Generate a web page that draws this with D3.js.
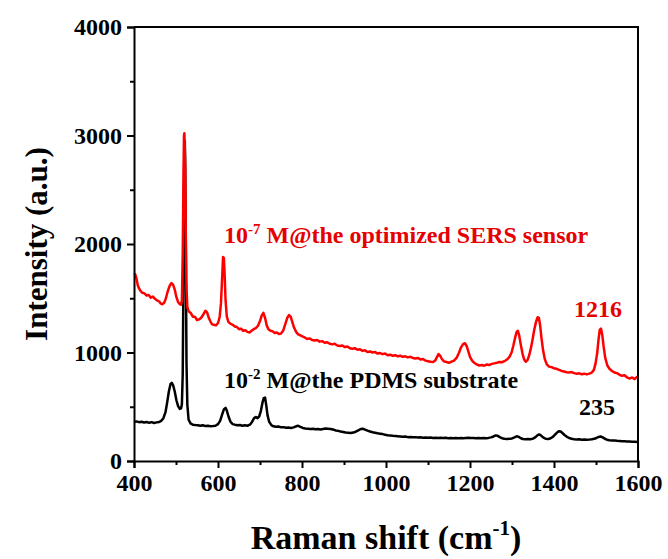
<!DOCTYPE html>
<html>
<head>
<meta charset="utf-8">
<script src="https://cdn.jsdelivr.net/npm/d3@7"></script>
<style>
  html, body { margin: 0; padding: 0; background: #fff; }
  svg { display: block; }
  text { font-family: "Liberation Serif", "Times New Roman", serif; font-weight: bold; }
</style>
</head>
<body>
<svg id="chart" width="668" height="559"></svg>
<script>
// ---- data ----
const xTicks = [400, 600, 800, 1000, 1200, 1400, 1600];
const yTicks = [0, 1000, 2000, 3000, 4000];
const xMinor = [500, 700, 900, 1100, 1300, 1500];
const yMinor = [500, 1500, 2500, 3500];

// 10^-7 M @ optimized SERS sensor (red)
const redShift = [400,403,406,409,412,416,420,425,430,435,440,445,450,455,460,464,468,472,476,480,485,489,493,497,501,505,509,512,514,516,518,519,520,522,523,525,527,530,535,540,545,550,555,560,565,570,574,578,582,586,590,595,600,604,607,610,612,614,616,618,621,625,630,635,640,645,650,655,660,665,670,675,680,685,690,695,700,704,708,712,716,720,725,730,735,740,745,750,755,760,765,769,773,777,781,786,790,795,800,806,812,818,824,830,836,842,848,854,860,866,872,878,884,890,896,902,908,914,920,926,932,938,944,950,956,962,968,974,980,986,992,998,1004,1010,1016,1022,1028,1034,1040,1046,1052,1058,1064,1070,1076,1082,1088,1094,1100,1106,1112,1117,1121,1125,1129,1133,1138,1144,1150,1156,1162,1168,1174,1179,1184,1188,1192,1196,1200,1205,1210,1216,1222,1228,1234,1240,1246,1252,1258,1264,1270,1276,1282,1288,1294,1299,1303,1307,1311,1314,1317,1321,1325,1329,1333,1337,1341,1345,1349,1353,1357,1361,1364,1367,1370,1374,1378,1383,1388,1394,1400,1406,1412,1418,1424,1430,1436,1442,1448,1454,1460,1466,1472,1478,1484,1490,1495,1499,1503,1506,1509,1512,1515,1518,1522,1527,1532,1538,1544,1550,1556,1562,1568,1574,1580,1586,1592,1596,1600];
const redInt = [1730,1720,1680,1620,1590,1565,1550,1545,1525,1530,1505,1515,1495,1480,1470,1450,1445,1460,1500,1560,1615,1640,1625,1580,1510,1465,1445,1440,1480,1900,2700,3000,3020,2700,2200,1600,1420,1380,1365,1330,1330,1300,1305,1320,1350,1385,1370,1320,1285,1260,1255,1250,1270,1330,1450,1700,1880,1870,1700,1480,1330,1280,1265,1255,1240,1235,1215,1220,1200,1205,1190,1185,1200,1215,1225,1245,1290,1340,1365,1320,1250,1215,1200,1195,1180,1185,1170,1175,1200,1260,1320,1345,1330,1280,1230,1190,1170,1160,1150,1140,1125,1130,1115,1110,1115,1100,1105,1090,1095,1080,1075,1080,1065,1060,1065,1050,1055,1040,1035,1040,1025,1030,1015,1020,1005,1010,1000,1005,990,995,985,990,975,980,970,975,965,970,960,965,955,960,950,945,950,935,940,925,920,915,912,925,955,985,970,940,918,912,905,915,925,950,1000,1050,1080,1085,1060,1010,960,925,905,890,880,885,878,890,885,895,900,905,912,910,920,935,960,1000,1060,1130,1190,1200,1160,1070,990,935,915,930,975,1040,1120,1210,1280,1325,1320,1250,1140,1020,940,890,870,865,855,850,840,830,825,818,815,820,810,805,808,800,805,798,805,815,840,900,1000,1120,1210,1220,1160,1060,950,880,850,830,815,810,795,785,790,770,760,770,755,770,780];

// 10^-2 M @ PDMS substrate (black)
const blackShift = [400,406,412,418,424,430,436,442,448,454,460,465,470,475,479,483,487,490,493,497,501,505,509,512,514,516,518,519,520,521,522,523,524,525,527,530,535,540,546,552,558,564,570,576,582,588,594,600,605,610,614,618,621,625,630,635,640,646,652,658,664,670,676,681,686,690,694,698,702,706,709,712,715,718,722,727,732,738,744,750,756,762,768,774,780,786,791,796,802,808,814,820,826,832,838,844,850,856,862,868,874,880,886,892,898,904,910,916,922,928,934,940,945,950,956,962,968,974,980,986,992,998,1004,1010,1016,1022,1028,1034,1040,1046,1052,1058,1064,1070,1076,1082,1088,1094,1100,1106,1112,1118,1124,1130,1136,1142,1148,1154,1160,1166,1172,1178,1184,1190,1196,1202,1208,1214,1220,1226,1232,1238,1244,1250,1256,1261,1266,1271,1276,1282,1288,1294,1300,1306,1311,1316,1321,1326,1332,1338,1344,1350,1356,1361,1365,1369,1374,1380,1386,1392,1398,1403,1408,1412,1416,1420,1425,1430,1436,1442,1448,1454,1460,1466,1472,1478,1484,1490,1496,1501,1506,1511,1516,1521,1526,1532,1538,1544,1550,1556,1562,1568,1574,1580,1586,1592,1600];
const blackInt = [360,365,358,362,355,360,352,358,350,356,360,370,395,450,540,640,710,720,700,640,560,505,480,485,520,800,1800,2500,2900,2950,2700,2200,1500,900,520,380,345,335,332,330,325,330,322,325,320,322,325,340,370,430,475,490,465,410,360,340,335,330,332,325,330,325,335,360,395,405,395,410,460,540,580,585,510,420,360,330,320,315,318,310,312,306,308,305,310,320,325,315,305,300,298,295,298,292,295,290,295,300,298,295,290,282,278,272,268,262,260,258,262,270,282,295,298,290,280,272,265,260,255,252,248,242,238,236,232,230,228,226,224,225,220,222,218,220,216,218,215,217,214,216,212,215,213,215,212,214,210,212,210,213,210,212,209,212,214,211,213,210,212,209,211,210,213,218,226,236,232,220,210,205,202,204,208,218,228,222,210,203,200,202,200,206,220,238,245,235,218,205,202,210,225,245,265,275,272,258,240,225,212,205,200,198,200,196,198,195,197,200,205,212,222,226,218,205,196,192,190,188,186,185,183,182,180,179,178,177,175];

const redLabel = {base: "10", sup: "-7", rest: " M@the optimized SERS sensor"};
const blackLabel = {base: "10", sup: "-2", rest: " M@the PDMS substrate"};
const redPeakLabel = "1216";
const blackPeakLabel = "235";

// ---- drawing ----
const svg = d3.select("#chart");
const L = 134, R = 638, T = 27, B = 461;
const x = d3.scaleLinear().domain([400, 1600]).range([L, R]);
const y = d3.scaleLinear().domain([0, 4000]).range([B, T]);

const line = d3.line().x(d => x(d[0])).y(d => y(d[1]));
const blackData = blackShift.map((s, i) => [s, blackInt[i]]);
const redData = redShift.map((s, i) => [s, redInt[i]]);

svg.append("path").datum(blackData).attr("d", line)
  .attr("fill", "none").attr("stroke", "#000").attr("stroke-width", 2.5)
  .attr("stroke-linejoin", "round");
svg.append("path").datum(redData).attr("d", line)
  .attr("fill", "none").attr("stroke", "#ff0000").attr("stroke-width", 2.5)
  .attr("stroke-linejoin", "round");

// frame
svg.append("path")
  .attr("d", `M${L},${T}H${R}V${B}`)
  .attr("fill", "none").attr("stroke", "#000").attr("stroke-width", 2);

// axes
const xAxis = svg.append("g").attr("transform", `translate(0,${B})`)
  .call(d3.axisBottom(x).tickValues(xTicks).tickSize(7).tickPadding(6).tickFormat(d3.format("d")));
const xAxisMinor = svg.append("g").attr("transform", `translate(0,${B})`)
  .call(d3.axisBottom(x).tickValues(xMinor).tickSize(4).tickFormat(""));
const yAxis = svg.append("g").attr("transform", `translate(${L},0)`)
  .call(d3.axisLeft(y).tickValues(yTicks).tickSize(7).tickPadding(5).tickFormat(d3.format("d")));
const yAxisMinor = svg.append("g").attr("transform", `translate(${L},0)`)
  .call(d3.axisLeft(y).tickValues(yMinor).tickSize(4).tickFormat(""));

[xAxis, xAxisMinor, yAxis, yAxisMinor].forEach(g => {
  g.selectAll(".domain").attr("stroke", "#000").attr("stroke-width", 2);
  g.selectAll(".tick line").attr("stroke", "#000").attr("stroke-width", 2);
  g.selectAll("text").attr("font-size", 24).attr("fill", "#000")
    .style("font-family", '"Liberation Serif", "Times New Roman", serif').style("font-weight", "bold");
});
xAxisMinor.select(".domain").remove();
yAxisMinor.select(".domain").remove();

// axis titles
const xt = svg.append("text").attr("x", (L + R) / 2).attr("y", 549)
  .attr("text-anchor", "middle").attr("font-size", 34).attr("fill", "#000");
xt.append("tspan").text("Raman shift (cm");
xt.append("tspan").text("-1").attr("font-size", 21).attr("dy", -14);
xt.append("tspan").text(")").attr("dy", 14);

svg.append("text").attr("transform", `translate(47,${(T + B) / 2}) rotate(-90)`)
  .attr("text-anchor", "middle").attr("font-size", 31).attr("fill", "#000")
  .text("Intensity (a.u.)");

// series labels
function seriesLabel(lbl, xPos, yPos, color) {
  const t = svg.append("text").attr("x", xPos).attr("y", yPos)
    .attr("font-size", 24).attr("fill", color);
  t.append("tspan").text(lbl.base);
  t.append("tspan").text(lbl.sup).attr("font-size", 15).attr("dy", -9);
  t.append("tspan").text(lbl.rest).attr("dy", 9);
}
seriesLabel(redLabel, 224, 243, "#e60000");
seriesLabel(blackLabel, 224, 388, "#000");

svg.append("text").attr("x", 598).attr("y", 317).attr("text-anchor", "middle")
  .attr("font-size", 24).attr("fill", "#e60000").text(redPeakLabel);
svg.append("text").attr("x", 597).attr("y", 415).attr("text-anchor", "middle")
  .attr("font-size", 24).attr("fill", "#000").text(blackPeakLabel);
</script>
</body>
</html>
